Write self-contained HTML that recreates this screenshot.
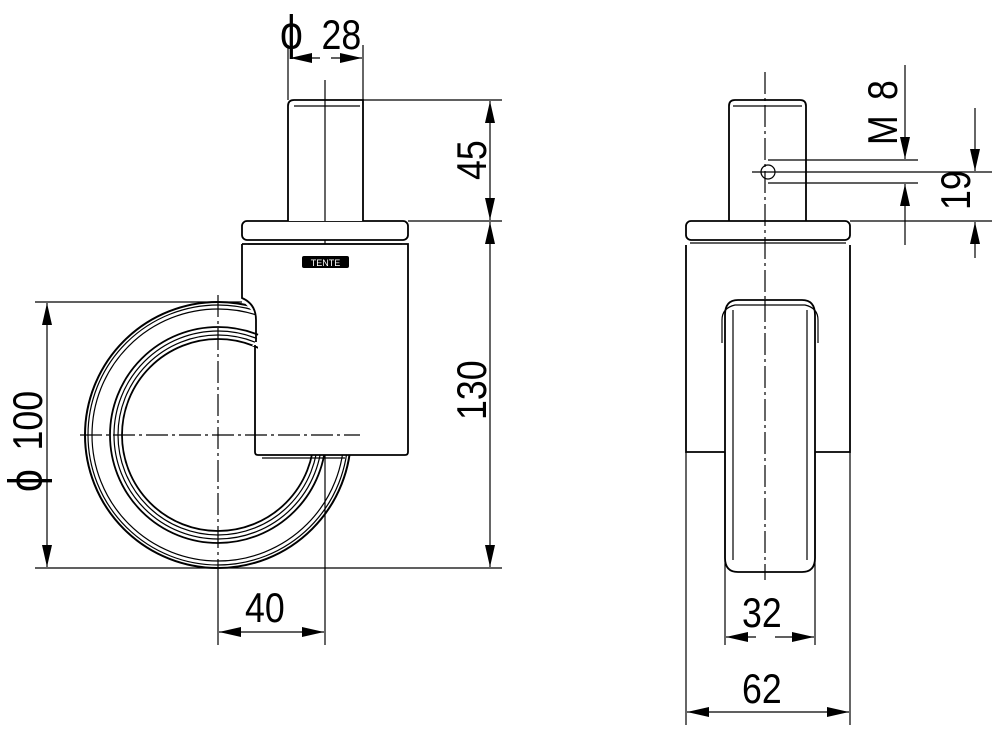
<!DOCTYPE html>
<html><head><meta charset="utf-8"><style>
html,body{margin:0;padding:0;background:#fff;}
svg{display:block;}
text{font-family:"Liberation Sans",sans-serif;font-size:42px;fill:#000;}
</style></head><body>
<svg width="1000" height="734" viewBox="0 0 1000 734" xmlns="http://www.w3.org/2000/svg">
<defs>
<marker id="a" viewBox="0 0 22 10" refX="22" refY="5" markerWidth="22" markerHeight="10" markerUnits="userSpaceOnUse" orient="auto-start-reverse"><path d="M0,0 L22,5 L0,10 z" fill="#000"/></marker>
</defs>
<g fill="none" stroke="#000" stroke-width="1.2">
<line x1="288" y1="45" x2="288" y2="100"/>
<line x1="363" y1="45" x2="363" y2="100"/>
<line x1="363" y1="100" x2="502" y2="100"/>
<line x1="408" y1="221" x2="502" y2="221"/>
<line x1="35" y1="568" x2="502" y2="568"/>
<line x1="35" y1="302" x2="242" y2="302"/>
<line x1="325" y1="80" x2="325" y2="645"/>
<line x1="218" y1="568" x2="218" y2="645"/>
<line x1="290" y1="58" x2="320" y2="58" marker-start="url(#a)"/>
<line x1="331" y1="58" x2="362" y2="58" marker-end="url(#a)"/>
<line x1="490" y1="101" x2="490" y2="220" marker-start="url(#a)" marker-end="url(#a)"/>
<line x1="490" y1="222" x2="490" y2="567" marker-start="url(#a)" marker-end="url(#a)"/>
<line x1="47" y1="303" x2="47" y2="567" marker-start="url(#a)" marker-end="url(#a)"/>
<line x1="219" y1="632" x2="324" y2="632" marker-start="url(#a)" marker-end="url(#a)"/>
<circle cx="218" cy="435" r="133" stroke-width="2"/>
<circle cx="218" cy="435" r="130"/>
<circle cx="218" cy="435" r="126"/>
<circle cx="218" cy="435" r="108" stroke-width="1.8"/>
<circle cx="218" cy="435" r="104"/>
<circle cx="218" cy="435" r="100"/>
<circle cx="218" cy="435" r="96" stroke-width="1.8"/>
<path d="M242,244 H408 V455 H258 V346 H252 C262,336 260,318 253,312 L242,300 Z" fill="#fff" stroke="none"/>
<path d="M242,244 H408 V452 Q408,455 405,455 H258 Q255,455 255,452 V345" stroke-width="1.8"/>
<path d="M242,244 V298 Q256,304 256,320 V342" stroke-width="1.8"/>
<line x1="262" y1="458" x2="345" y2="458"/>
<rect x="242" y="221" width="166" height="19" rx="5" fill="#fff" stroke-width="1.8"/>
<line x1="248" y1="244" x2="402" y2="244"/>
<rect x="302" y="256" width="47" height="12" rx="2" fill="#000" stroke="none"/>
<text x="325.5" y="266" style="font-size:9px;fill:#fff" text-anchor="middle" stroke="none">TENTE</text>
<path d="M288,221 V106 Q288,100 294,100 H363 V221" fill="#fff" stroke-width="1.8"/>
<line x1="294" y1="106" x2="360" y2="106"/>
<line x1="325" y1="100" x2="325" y2="221"/>
<line x1="80" y1="435" x2="360" y2="435" stroke-dasharray="22,4,3,4"/>
<line x1="218" y1="295" x2="218" y2="568" stroke-dasharray="22,4,3,4"/>

<line x1="765" y1="72" x2="765" y2="300" stroke-dasharray="22,4,3,4"/>
<line x1="765" y1="300" x2="765" y2="580" stroke-dasharray="22,4,3,4"/>
<path d="M729,221 V106 Q729,100 735,100 H800 Q806,100 806,106 V221" stroke-width="1.8"/>
<line x1="733" y1="106" x2="802" y2="106"/>
<circle cx="768" cy="172" r="7"/>
<line x1="768" y1="160" x2="918" y2="160"/>
<line x1="752" y1="172" x2="992" y2="172"/>
<line x1="768" y1="183" x2="918" y2="183"/>
<rect x="686" y="221" width="164" height="19" rx="5" stroke-width="1.8"/>
<line x1="690" y1="243" x2="846" y2="243"/>
<line x1="850" y1="221" x2="992" y2="221"/>
<path d="M686,245 V452 H725 M850,245 V452 H815" stroke-width="1.8"/>
<path d="M686,452 V725 M850,452 V725 M725,452 V645 M815,452 V645"/>
<path d="M725,558 Q725,572 738,572 H802 Q815,572 815,558 V315 Q815,300 802,300 H738 Q725,300 725,315 Z" stroke-width="1.8"/>
<path d="M722,343 V320 Q722,308 735,305 H805 Q818,308 818,320 V343"/>
<line x1="733" y1="310" x2="733" y2="560"/>
<line x1="807" y1="310" x2="807" y2="560"/>
<line x1="905" y1="65" x2="905" y2="159" marker-end="url(#a)"/>
<line x1="905" y1="184" x2="905" y2="245" marker-start="url(#a)"/>
<line x1="975" y1="108" x2="975" y2="171" marker-end="url(#a)"/>
<line x1="975" y1="222" x2="975" y2="258" marker-start="url(#a)"/>
<line x1="726" y1="637" x2="756" y2="637" marker-start="url(#a)"/>
<line x1="775" y1="637" x2="814" y2="637" marker-end="url(#a)"/>
<line x1="687" y1="712" x2="849" y2="712" marker-start="url(#a)" marker-end="url(#a)"/>
</g>
<text transform="translate(280,49) scale(0.85,1)"><tspan style="font-size:48px">ϕ</tspan><tspan dx="22">28</tspan></text>
<text transform="translate(486,180) rotate(-90) scale(0.85,1)">45</text>
<text transform="translate(486,420) rotate(-90) scale(0.85,1)">130</text>
<text transform="translate(42,492) rotate(-90) scale(0.85,1)"><tspan style="font-size:48px">ϕ</tspan><tspan dx="22">100</tspan></text>
<text transform="translate(245,622) scale(0.85,1)">40</text>
<text transform="translate(742,627) scale(0.85,1)">32</text>
<text transform="translate(742,703) scale(0.85,1)">62</text>
<text transform="translate(897,145) rotate(-90) scale(0.85,1)">M<tspan dx="18">8</tspan></text>
<text transform="translate(970,210) rotate(-90) scale(0.85,1)">19</text>
</svg>
</body></html>
